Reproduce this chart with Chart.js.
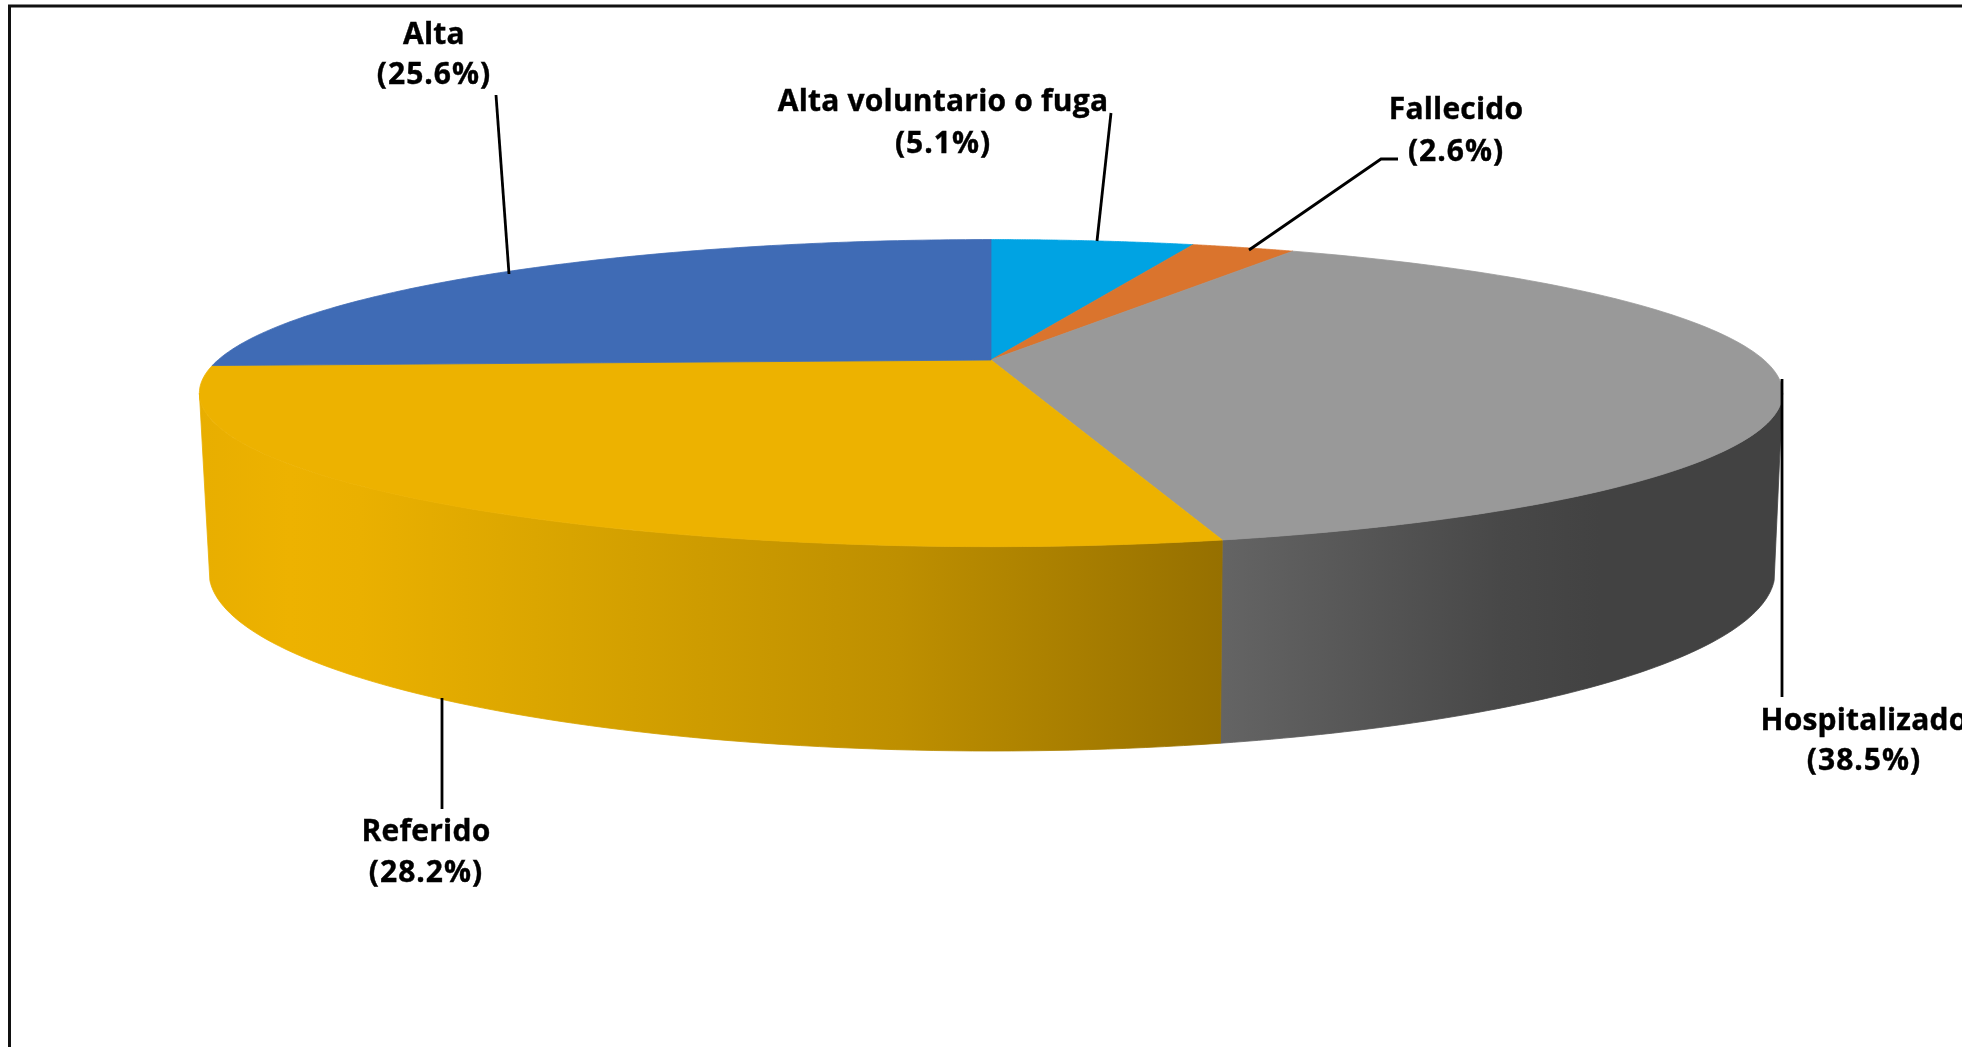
<!DOCTYPE html>
<html lang="es">
<head>
<meta charset="utf-8">
<title>Pie 3D</title>
<script src="https://cdn.jsdelivr.net/npm/chart.js@4"></script>
<style>
    html, body { margin: 0; padding: 0; background: #fff; overflow: hidden; }
    #wrap { position: relative; width: 1962px; height: 1047px; }
</style>
</head>
<body>
<div id="wrap"><canvas id="pie"></canvas></div>
<script>
// Chart data
const categories = ['Alta voluntario o fuga', 'Fallecido', 'Hospitalizado', 'Referido', 'Alta'];
const shares = [5.1, 2.6, 38.5, 28.2, 25.6];
const sliceColors = ['#00A3E3', '#DA742D', '#999999', '#EDB200', '#3F6BB5'];

// Tilted disc seen in perspective
const RIM_RADIUS = 773;
const RIM_DEPTH = 146.4;
const TILT = 0.2156;
const BASE = { x: 992, y: 572, rx: 783, ry: 179 };

// Label placement, same order as categories
const labelSpots = [
    { x: 943, y: 102, y2: 144 },
    { x: 1456, y: 110, y2: 152 },
    { x: 1864, y: 721, y2: 761 },
    { x: 426, y: 832, y2: 873 },
    { x: 434, y: 35, y2: 75 }
];
const leaders = [
    [[1111, 113], [1097, 241]],
    [[1398, 159], [1381, 159], [1249, 250]],
    [[1782, 379], [1782, 697]],
    [[442, 698], [442, 809]],
    [[496, 95], [509, 274]]
];

const wallStops = {
    'Referido': [[198, '#E8AE00'], [290, '#EDB200'], [360, '#EAB000'], [570, '#D8A400'], [900, '#BE8F00'], [1222, '#967000']],
    'Hospitalizado': [[1222, '#646464'], [1500, '#484848'], [1600, '#424242'], [1782, '#424242']]
};

// project a rim point, angle in canvas radians
function rimPoint(cx, cy, angle) {
    const X = Math.cos(angle);
    const Y = Math.sin(angle);
    const w = 1 - TILT * Y;
    return { x: cx + RIM_RADIUS * X / w, y: cy + RIM_DEPTH * Y / w };
}

function basePoint(top, cx) {
    const x = BASE.x + (top.x - cx) * 0.988;
    const t = Math.min(1, Math.abs((x - BASE.x) / BASE.rx));
    return { x: x, y: BASE.y + BASE.ry * Math.sqrt(1 - t * t) };
}

function drawWall(ctx, arc, name, rightEnd, leftEnd) {
    const from = Math.max(arc.startAngle, rightEnd);
    const to = Math.min(arc.endAngle, leftEnd);
    const steps = 80;
    const top = [];
    for (let i = 0; i <= steps; i++) {
        top.push(rimPoint(arc.x, arc.y, from + (to - from) * i / steps));
    }
    const bottom = top.map(p => basePoint(p, arc.x)).reverse();

    const grad = ctx.createLinearGradient(198, 0, 1782, 0);
    wallStops[name].forEach(s => grad.addColorStop((s[0] - 198) / (1782 - 198), s[1]));

    ctx.beginPath();
    top.concat(bottom).forEach((p, i) => i ? ctx.lineTo(p.x, p.y) : ctx.moveTo(p.x, p.y));
    ctx.closePath();
    ctx.fillStyle = grad;
    ctx.strokeStyle = grad;
    ctx.lineWidth = 0.8;
    ctx.fill();
    ctx.stroke();
}

function drawSlice(ctx, arc, color) {
    const steps = 120;
    ctx.beginPath();
    ctx.moveTo(arc.x, arc.y);
    for (let i = 0; i <= steps; i++) {
        const p = rimPoint(arc.x, arc.y, arc.startAngle + (arc.endAngle - arc.startAngle) * i / steps);
        ctx.lineTo(p.x, p.y);
    }
    ctx.closePath();
    ctx.fillStyle = color;
    ctx.strokeStyle = color;
    ctx.lineWidth = 0.8;
    ctx.fill();
    ctx.stroke();
}

// Draws the library's arcs as a thick disc instead of a flat circle
const discPlugin = {
    id: 'disc',
    beforeDatasetsDraw(chart) {
        const ctx = chart.ctx;
        const arcs = chart.getDatasetMeta(0).data;
        ctx.save();
        arcs.forEach((arc, i) => {
            if (wallStops[categories[i]]) {
                const span = arc.getProps(['x', 'y', 'startAngle', 'endAngle']);
                drawWall(ctx, span, categories[i], Math.asin(TILT), Math.PI - Math.asin(TILT));
            }
        });
        arcs.forEach((arc, i) => {
            drawSlice(ctx, arc.getProps(['x', 'y', 'startAngle', 'endAngle']), sliceColors[i]);
        });
        ctx.restore();
        return false;
    },
    afterDraw(chart) {
        const ctx = chart.ctx;
        ctx.save();

        // frame
        ctx.strokeStyle = '#111';
        ctx.lineWidth = 3;
        ctx.beginPath();
        ctx.moveTo(9.5, 1047);
        ctx.lineTo(9.5, 6);
        ctx.lineTo(1962, 6);
        ctx.stroke();

        ctx.strokeStyle = '#000';
        ctx.lineWidth = 2.8;
        leaders.forEach(line => {
            ctx.beginPath();
            line.forEach((p, i) => i ? ctx.lineTo(p[0], p[1]) : ctx.moveTo(p[0], p[1]));
            ctx.stroke();
        });

        ctx.fillStyle = '#000';
        ctx.strokeStyle = '#000';
        ctx.lineWidth = 0.4;
        ctx.font = 'bold 30px "Open Sans"';
        ctx.textAlign = 'center';
        ctx.textBaseline = 'middle';
        categories.forEach((name, i) => {
            const spot = labelSpots[i];
            const pct = '(' + shares[i].toFixed(1) + '%)';
            ctx.letterSpacing = '0.2px';
            ctx.fillText(name, spot.x, spot.y);
            ctx.strokeText(name, spot.x, spot.y);
            ctx.letterSpacing = '1px';
            ctx.fillText(pct, spot.x, spot.y2);
            ctx.strokeText(pct, spot.x, spot.y2);
        });
        ctx.restore();
    }
};

document.addEventListener('DOMContentLoaded', function() {
    new Chart(document.getElementById('pie').getContext('2d'), {
        type: 'pie',
        data: {
            labels: categories,
            datasets: [{
                data: shares,
                backgroundColor: sliceColors,
                borderWidth: 0
            }]
        },
        options: {
            responsive: true,
            maintainAspectRatio: false,
            animation: false,
            layout: { padding: { left: 20, right: 0, top: 0, bottom: 327 } },
            plugins: {
                legend: { display: false },
                tooltip: { enabled: false }
            }
        },
        plugins: [discPlugin]
    });
});
</script>
</body>
</html>
